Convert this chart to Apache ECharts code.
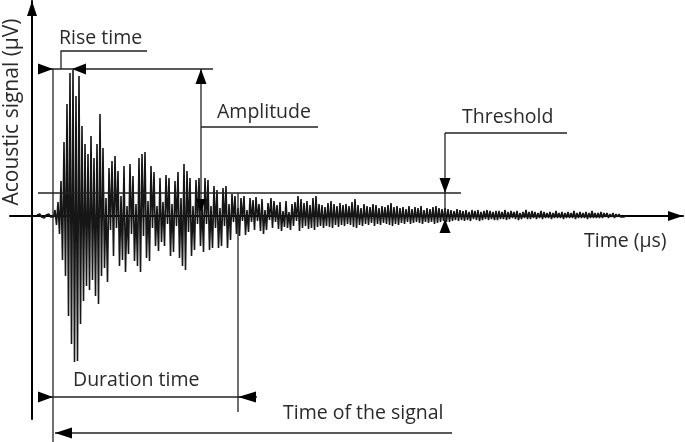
<!DOCTYPE html>
<html><head><meta charset="utf-8">
<script src="https://cdn.jsdelivr.net/npm/echarts@6/dist/echarts.min.js"></script>
<style>html,body{margin:0;padding:0;background:#fff}#c{width:685px;height:442px}</style>
</head><body><div id="c"></div>
<script>
// ---- data (time in µs, signal in µV, schematic units) ----
const signalStartTime = 5;
const sampleStep = 1.5;
const signalValues = [
  1,-1,2,-1,1,-2,1,-1,2,-1,1,-1,
  6,-9,14,-18,35,-44,74,-60,112,-100,143,-128,146,-146,120,-145,140,-108,90,-85,72,-70,62,-74,80,-64,58,-80,72,-88,102,
  -60,68,-52,18,-66,48,-14,55,-40,60,-12,45,-50,20,-44,50,-56,10,-38,52,-18,40,-45,12,-50,58,-56,62,-20,64,-42,15,-45,
  50,-12,44,-30,10,-35,38,-26,14,-30,41,-8,38,-40,12,-36,35,-10,44,-42,18,-50,52,-54,45,-16,38,-40,10,-34,36,-8,38,
  -30,12,-36,38,-8,36,-34,10,-32,30,-12,26,-32,8,-30,28,-10,30,-32,12,-24,22,-6,20,-18,8,-20,18,-5,20,-19,6,-16,
  18,-6,16,-14,19,-5,12,-15,17,-18,6,-14,13,-4,18,-12,15,-6,11,-13,14,-15,5,-11,15,-12,4,-14,12,-10,14,-5,20,
  -15,17,-12,13,-10,15,-13,11,-12,18,-14,20,-11,12,-10,11,-12,9,-10,13,-11,15,-12,12,-9,10,-11,13,-9,11,-10,12,-8,
  10,-9,14,-11,17,-12,11,-9,8,-10,12,-8,10,-9,9,-7,12,-10,11,-8,8,-9,10,-7,9,-8,11,-9,13,-10,9,-8,10,
  -9,8,-7,9,-8,7,-6,10,-8,7,-7,9,-6,8,-7,10,-8,6,-6,8,-7,7,-6,9,-8,10,-7,8,-6,7,-5,8,-6,
  7,-6,6,-5,5,-4,7,-5,6,-4,5,-5,6,-4,4,-5,6,-3,5,-4,6,-5,4,-4,5,-3,6,-4,5,-3,4,-4,5,
  -4,5,-3,4,-3,6,-4,4,-3,5,-2,4,-3,5,-4,3,-3,4,-2,6,-3,4,-3,5,-2,4,-3,3,-2,5,-3,4,-2,
  3,-2,4,-3,3,-2,5,-2,3,-2,4,-3,3,-2,4,-2,3,-2,5,-3,3,-2,4,-2,3,-2,4,-3,3,-2,5,-2,3,
  -2,3,-2,4,-2,3,-1,3,-2,2,-1,3,-2,2,-1,2,-1,1,-1,1,0
];
const xAxisTitle = 'Time (μs)';
const yAxisTitle = 'Acoustic signal (μV)';
const labels = {rise: 'Rise time', amplitude: 'Amplitude', threshold: 'Threshold', duration: 'Duration time', signal: 'Time of the signal'};
// key features of the hit (data units)
const riseStart = 21, peakTime = 40, peakAmplitude = 147;
const thresholdLevel = 23, durationEnd = 206, signalEnd = 420;
const amplitudeMarkerTime = 169, thresholdMarkerTime = 413;

const chart = echarts.init(document.getElementById('c'), null, {renderer: 'canvas'});
const seriesData = signalValues.map((v, i) => [signalStartTime + i * sampleStep, v]);
const axisLine = () => ({show: true, onZero: true, symbol: ['none', 'triangle'], symbolSize: [10, 15], symbolOffset: [0, -7.5], lineStyle: {color: '#000', width: 2}});
chart.setOption({
  animation: false,
  grid: {left: 10, right: 2, top: 1, bottom: 23, containLabel: false},
  xAxis: {type: 'value', min: -22, max: 651, axisLine: axisLine(), axisTick: {show: false}, axisLabel: {show: false}, splitLine: {show: false}},
  yAxis: {type: 'value', min: -203, max: 215, axisLine: axisLine(), axisTick: {show: false}, axisLabel: {show: false}, splitLine: {show: false}},
  series: [{type: 'line', data: seriesData, showSymbol: false, sampling: null, lineStyle: {color: '#161616', width: 1.6}, z: 3}]
});

const P = (x, y) => chart.convertToPixel({gridIndex: 0}, [x, y]);
const C = '#222';
const FONT = '19.5px "Open Sans", sans-serif';
const YFONT = '21px "Open Sans", sans-serif';
const g = [];
function line(pts, w) { g.push({type: 'polyline', z: 100, shape: {points: pts}, style: {stroke: C, lineWidth: w || 1.3, fill: null}}); }
function tri(tip, dir, len, half) {
  const [x, y] = tip; let pts;
  if (dir === 'right') pts = [[x, y], [x - len, y - half], [x - len, y + half]];
  if (dir === 'left') pts = [[x, y], [x + len, y - half], [x + len, y + half]];
  if (dir === 'up') pts = [[x, y], [x - half, y + len], [x + half, y + len]];
  if (dir === 'down') pts = [[x, y], [x - half, y - len], [x + half, y - len]];
  g.push({type: 'polygon', z: 101, shape: {points: pts}, style: {fill: '#000'}});
}
function text(str, x, y, opts) {
  g.push(Object.assign({type: 'text', z: 102, x: x, y: y, style: {text: str, font: FONT, fill: '#2a2a2a', textAlign: 'left', textVerticalAlign: 'middle'}}, opts || {}));
}
const ps = P(riseStart, peakAmplitude), pp = P(peakTime, peakAmplitude);
const yPeak = ps[1], xStart = ps[0], xPeak = pp[0];
const y0 = P(0, 0)[1];
const yThr = P(0, thresholdLevel)[1];
const xAmp = P(amplitudeMarkerTime, 0)[0];
const xThr = P(thresholdMarkerTime, 0)[0];
const xDur = P(durationEnd, 0)[0];
const xEnd = P(signalEnd, 0)[0];

// peak level line and rise time
line([[xStart - 15, yPeak], [xAmp + 12, yPeak]]);
tri([xStart, yPeak], 'right', 15, 5.5);
tri([xPeak, yPeak], 'left', 14, 5.5);
const xRise = (xStart + xPeak) / 2 - 1.5;
line([[xRise, yPeak], [xRise, yPeak - 18], [xRise + 86, yPeak - 18]]);
text(labels.rise, xRise - 2, yPeak - 31);
// signal start vertical
line([[xStart, yPeak], [xStart, 442]]);
// amplitude
line([[xAmp, yPeak], [xAmp, y0]]);
tri([xAmp, yPeak], 'up', 15, 5.5);
tri([xAmp, y0 - 4], 'down', 13, 5);
line([[xAmp, yPeak + 58], [xAmp + 117, yPeak + 58]]);
text(labels.amplitude, xAmp + 16, yPeak + 43);
// threshold
line([[xStart - 15, yThr], [xThr + 16, yThr]]);
line([[xThr, yThr - 60], [xThr, y0 + 17]]);
line([[xThr, yThr - 60], [xThr + 122, yThr - 60]]);
tri([xThr, yThr], 'down', 15, 5.5);
tri([xThr, y0 + 3], 'up', 14, 5.5);
text(labels.threshold, xThr + 17, yThr - 76);
// duration
const yDur = 397;
line([[xDur, yThr], [xDur, yDur + 15]]);
line([[xStart - 15, yDur], [xDur + 19, yDur]]);
tri([xStart, yDur], 'right', 15, 5.5);
tri([xDur, yDur], 'left', 18, 5.5);
text(labels.duration, xStart + 20, yDur - 17);
// time of the signal
const ySig = 433;
line([[xStart + 2, ySig], [xEnd, ySig]]);
tri([xStart + 2, ySig], 'left', 17, 5.5);
text(labels.signal, xEnd - 169, ySig - 20);
// axis titles
text(xAxisTitle, 584, y0 + 25);
text(yAxisTitle, 12, 112, {rotation: Math.PI / 2, style: {text: yAxisTitle, font: YFONT, fill: '#2a2a2a', textAlign: 'center', textVerticalAlign: 'middle'}});

chart.setOption({graphic: g});
</script></body></html>
